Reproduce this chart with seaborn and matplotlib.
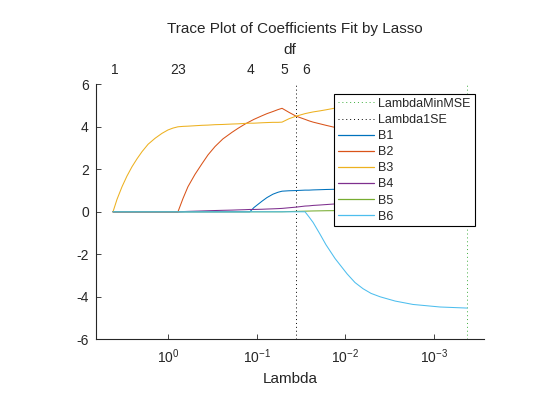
import matplotlib
matplotlib.use("Agg")
import matplotlib.pyplot as plt
from matplotlib.lines import Line2D
import seaborn as sns
import pandas as pd

# ---- data ----
lambdas = [4.21, 3.79, 3.33, 2.93, 2.57, 2.25, 1.98, 1.69, 1.41, 1.18,
           1.01, 0.885, 0.778, 0.682, 0.600, 0.500, 0.417, 0.356, 0.297, 0.242,
           0.191, 0.163, 0.136, 0.120, 0.108, 0.0875, 0.0769, 0.0658, 0.0577, 0.0520,
           0.0434, 0.0361, 0.0286, 0.0258, 0.0232, 0.0194, 0.0166, 0.0131, 0.00959, 0.00780,
           0.00633, 0.00514, 0.00406, 0.00275, 0.00173, 0.000855, 0.000424]

B1 = [0, 0, 0, 0, 0, 0, 0, 0, 0, 0,
      0, 0, 0, 0, 0, 0, 0, 0, 0, 0,
      0, 0, 0, 0, 0.20, 0.50, 0.67, 0.83, 0.92, 0.97,
      0.99, 1.00, 1.02, 1.02, 1.03, 1.04, 1.05, 1.06, 1.07, 1.07,
      1.08, 1.08, 1.09, 1.09, 1.10, 1.11, 1.12]
B2 = [0, 0, 0, 0, 0, 0, 0, 0, 0, 0,
      0, 0, 0, 0.63, 1.18, 1.76, 2.26, 2.68, 3.07, 3.43,
      3.74, 3.93, 4.13, 4.25, 4.35, 4.52, 4.62, 4.72, 4.81, 4.87,
      4.68, 4.50, 4.35, 4.28, 4.22, 4.14, 4.07, 3.97, 3.88, 3.83,
      3.78, 3.74, 3.70, 3.65, 3.60, 3.56, 3.54]
B3 = [0, 0.59, 1.18, 1.68, 2.12, 2.50, 2.83, 3.18, 3.46, 3.69,
      3.85, 3.94, 4.00, 4.02, 4.03, 4.05, 4.07, 4.08, 4.10, 4.11,
      4.13, 4.14, 4.16, 4.17, 4.17, 4.19, 4.20, 4.21, 4.21, 4.22,
      4.38, 4.50, 4.62, 4.66, 4.70, 4.75, 4.80, 4.88, 4.95, 4.99,
      5.03, 5.07, 5.10, 5.14, 5.18, 5.22, 5.24]
B4 = [0, 0, 0, 0, 0, 0, 0, 0, 0, 0,
      0, 0, 0, 0.01, 0.02, 0.03, 0.04, 0.05, 0.06, 0.07,
      0.08, 0.09, 0.10, 0.11, 0.11, 0.12, 0.13, 0.14, 0.15, 0.16,
      0.19, 0.22, 0.27, 0.28, 0.30, 0.32, 0.34, 0.37, 0.40, 0.42,
      0.44, 0.46, 0.47, 0.50, 0.52, 0.54, 0.55]
B5 = [0, 0, 0, 0, 0, 0, 0, 0, 0, 0,
      0, 0, 0, 0, 0, 0, 0, 0, 0, 0,
      0, 0, 0, 0, 0, 0, 0, 0, 0, 0,
      0.01, 0.02, 0.03, 0.035, 0.04, 0.045, 0.05, 0.055, 0.06, 0.065,
      0.07, 0.075, 0.08, 0.085, 0.09, 0.10, 0.10]
B6 = [0, 0, 0, 0, 0, 0, 0, 0, 0, 0,
      0, 0, 0, 0, 0, 0, 0, 0, 0, 0,
      0, 0, 0, 0, 0, 0, 0, 0, 0, 0,
      0, 0, 0, -0.24, -0.50, -1.05, -1.55, -2.20, -2.92, -3.33,
      -3.62, -3.84, -4.00, -4.20, -4.36, -4.48, -4.53]

series_names = ["B1", "B2", "B3", "B4", "B5", "B6"]
series_values = [B1, B2, B3, B4, B5, B6]
series_colors = ["#0072BD", "#D95319", "#EDB120", "#7E2F8E", "#77AC30", "#4DBEEE"]

lambda_min_mse = 0.000424
lambda_1se = 0.0361
min_mse_color = "#3DAE3D"

df_lambdas = [4.00, 0.863, 0.719, 0.117, 0.0494, 0.0281]
df_labels = ["1", "2", "3", "4", "5", "6"]

y_ticks = [-6, -4, -2, 0, 2, 4, 6]
x_ticks = [1, 0.1, 0.01, 0.001]
x_tick_labels = [r"$\mathdefault{10^{0}}$", r"$\mathdefault{10^{-1}}$",
                 r"$\mathdefault{10^{-2}}$", r"$\mathdefault{10^{-3}}$"]

# ---- long-format table ----
rows = []
for name, vals in zip(series_names, series_values):
    for lam, v in zip(lambdas, vals):
        rows.append({"Lambda": lam, "coef": v, "series": name})
data = pd.DataFrame(rows)

sns.set_style("ticks")
plt.rcParams["font.family"] = ["Liberation Sans", "DejaVu Sans"]
plt.rcParams["axes.unicode_minus"] = False
plt.rcParams["mathtext.fontset"] = "custom"
plt.rcParams["mathtext.rm"] = "Liberation Sans"
plt.rcParams["mathtext.it"] = "Liberation Sans:italic"

fig = plt.figure(figsize=(5.6, 4.2), dpi=100)
L, R, B, T = 95.7 / 560, 484 / 560, 1 - 339.3 / 420, 1 - 84.3 / 420
ax = fig.add_axes([L, B, R - L, T - B])

ax.axvline(lambda_min_mse, color=min_mse_color, lw=0.7, dashes=(1, 3))
ax.axvline(lambda_1se, color="black", lw=0.7, dashes=(1, 3))

sns.lineplot(data=data, x="Lambda", y="coef", hue="series",
             hue_order=series_names, palette=series_colors, linewidth=0.75,
             ax=ax, legend=False, estimator=None, sort=False)

ax.set_xscale("log")
ax.set_xlim(6.60, 2.73e-4)
ax.set_ylim(-6, 6)
ax.set_yticks(y_ticks)
ax.set_yticklabels([str(t) for t in y_ticks])
ax.set_xticks(x_ticks)
ax.set_xticklabels(x_tick_labels)
ax.minorticks_off()
ax.tick_params(direction="in", length=3.5, width=0.6, labelsize=10, pad=5,
               colors="#262626")
ax.tick_params(axis="x", pad=6)
for s in ["top", "right"]:
    ax.spines[s].set_visible(False)
for s in ["left", "bottom"]:
    ax.spines[s].set_linewidth(0.8)
    ax.spines[s].set_color("#262626")
ax.set_xlabel("Lambda", fontsize=11, labelpad=4, color="#262626")
ax.set_ylabel("")

handles = [Line2D([], [], color=min_mse_color, lw=0.7, dashes=(1, 3)),
           Line2D([], [], color="black", lw=0.7, dashes=(1, 3))]
handles += [Line2D([], [], color=c, lw=0.9) for c in series_colors]
labels = ["LambdaMinMSE", "Lambda1SE"] + series_names
leg = ax.legend(handles, labels, loc="upper left",
                bbox_to_anchor=((334 - 95.7) / 388.3, (339.3 - 94) / 255),
                borderaxespad=0, fontsize=9, labelspacing=0.33,
                handlelength=2.9, handletextpad=0.35, borderpad=0.3,
                frameon=True, fancybox=False, framealpha=1,
                edgecolor="black")
leg.get_frame().set_linewidth(0.8)

ax2 = ax.twiny()
ax2.set_xscale("log")
ax2.set_xlim(ax.get_xlim())
ax2.set_xticks(df_lambdas)
ax2.set_xticklabels(df_labels)
ax2.minorticks_off()
ax2.tick_params(length=0, labelsize=10, pad=5, colors="#262626")
for s in ax2.spines.values():
    s.set_visible(False)
ax2.set_xlabel("df", fontsize=11, labelpad=7, color="#262626")

fig.text((L + R) / 2 + 0.008, 1 - 28.5 / 420,
         "Trace Plot of Coefficients Fit by Lasso",
         ha="center", va="center", fontsize=11, color="#262626")

fig.savefig("out.png", dpi=100)
